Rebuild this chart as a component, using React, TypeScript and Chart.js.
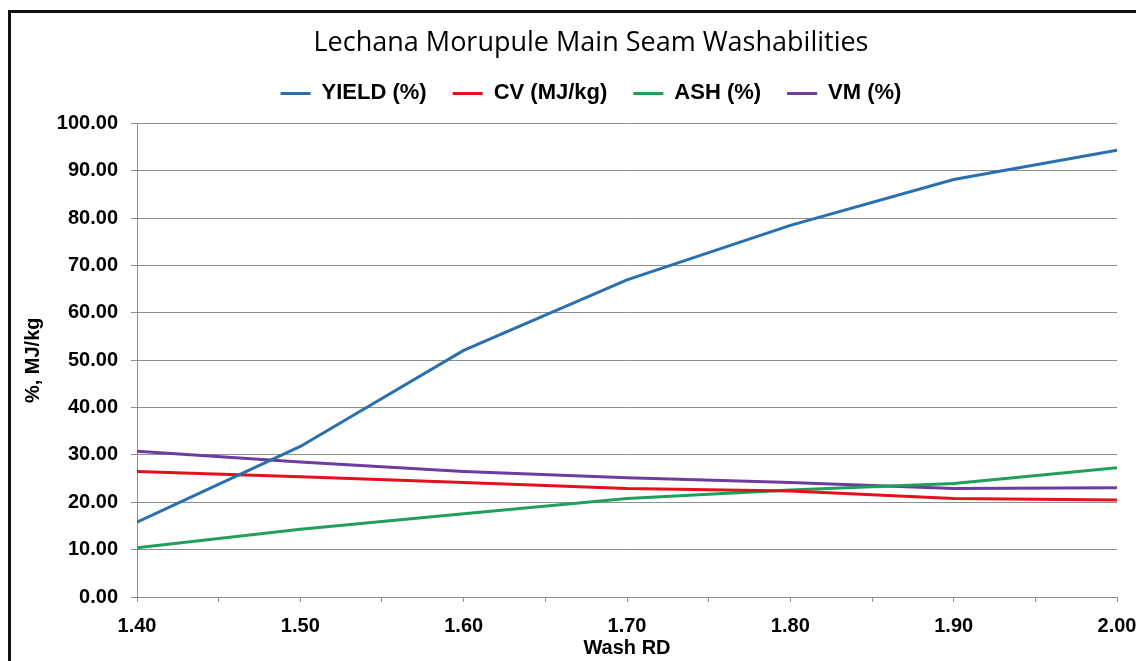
import React, { useEffect, useRef } from "react";
import { Chart, registerables } from "chart.js";

Chart.register(...registerables);

const washRD = [1.4, 1.5, 1.6, 1.7, 1.8, 1.9, 2.0];
const yieldPct = [15.8, 31.8, 52.1, 67.0, 78.5, 88.2, 94.4];
const cvMJkg = [26.5, 25.4, 24.2, 22.9, 22.4, 20.8, 20.5];
const ashPct = [10.4, 14.3, 17.6, 20.8, 22.6, 24.0, 27.3];
const vmPct = [30.8, 28.5, 26.5, 25.2, 24.2, 22.9, 23.1];

const seriesLabels = ["YIELD (%)", "CV (MJ/kg)", "ASH (%)", "VM (%)"];
const seriesColors = ["#2a6fae", "#e4101a", "#1f9f58", "#6e3b9e"];

const chartTitle = "Lechana Morupule Main Seam Washabilities";
const xTitle = "Wash RD";
const yTitle = "%, MJ/kg";

const GRID = "#8e8e8e";
const ARIAL = "'Liberation Sans', Arial, sans-serif";
const CANVAS_W = 1160;

export default function App() {
  const ref = useRef<HTMLCanvasElement>(null);

  useEffect(() => {
    const series = [yieldPct, cvMJkg, ashPct, vmPct];
    const chart = new Chart(ref.current as HTMLCanvasElement, {
      type: "line",
      data: {
        datasets: series.map((s, i) => ({
          label: seriesLabels[i],
          data: s.map((v, j) => ({ x: washRD[j], y: v })),
          borderColor: seriesColors[i],
          backgroundColor: seriesColors[i],
          borderWidth: 3,
          pointRadius: 0,
          tension: 0,
        })),
      },
      options: {
        responsive: false,
        animation: false,
        layout: { padding: 0 },
        plugins: {
          title: {
            display: true,
            text: chartTitle,
            color: "#000",
            font: { family: "'Open Sans', sans-serif", size: 27, weight: "normal" },
            padding: { top: 14, bottom: -3 },
          },
          subtitle: {
            display: true,
            text: "",
            position: "top",
            weight: 500,
            font: { size: 1 },
            padding: { top: 8, bottom: 0 },
          },
          legend: {
            position: "top",
            labels: {
              boxWidth: 30,
              boxHeight: 0,
              padding: 26,
              color: "#000",
              font: { family: ARIAL, size: 22, weight: "bold" },
            },
          },
          tooltip: { enabled: false },
        },
        scales: {
          x: {
            type: "linear",
            min: 1.4,
            max: 2.0,
            afterFit: (s: any) => {
              s.height = 76;
            },
            ticks: {
              stepSize: 0.05,
              autoSkip: false,
              maxRotation: 0,
              padding: 12,
              color: "#000",
              font: { family: ARIAL, size: 20, weight: "bold" },
              callback: (v: any) => {
                const n = Math.round(Number(v) * 100);
                return n % 10 === 0 ? (n / 100).toFixed(2) : "";
              },
            },
            grid: { drawOnChartArea: false, drawTicks: true, tickLength: 5, color: GRID },
            border: { color: GRID },
            title: {
              display: true,
              text: xTitle,
              color: "#000",
              font: { family: ARIAL, size: 20, weight: "bold" },
              padding: { top: 0, bottom: 13 },
            },
          },
          y: {
            min: 0,
            max: 100,
            afterFit: (s: any) => {
              s.width = 126;
            },
            ticks: {
              stepSize: 10,
              padding: 13,
              color: "#000",
              font: { family: ARIAL, size: 20, weight: "bold" },
              callback: (v: any) => Number(v).toFixed(2),
            },
            grid: { color: GRID, tickLength: 6 },
            border: { color: GRID },
            title: {
              display: true,
              text: yTitle,
              color: "#000",
              font: { family: ARIAL, size: 20, weight: "bold" },
              padding: { top: 10, bottom: 0 },
            },
          },
          spacer: {
            type: "linear",
            position: "right",
            display: true,
            afterFit: (s: any) => {
              s.width = CANVAS_W - 1106;
            },
            ticks: { display: false },
            grid: { display: false, drawOnChartArea: false },
            border: { display: false },
          },
        },
      },
    } as any);
    return () => chart.destroy();
  }, []);

  return (
    <div style={{ width: 1136, height: 653, overflow: "hidden", background: "#fff" }}>
      <div
        style={{
          marginTop: 2,
          border: "3px solid #111",
          width: CANVAS_W,
          height: 700,
          background: "#fff",
        }}
      >
        <canvas ref={ref} width={CANVAS_W} height={660} style={{ display: "block" }} />
      </div>
    </div>
  );
}
